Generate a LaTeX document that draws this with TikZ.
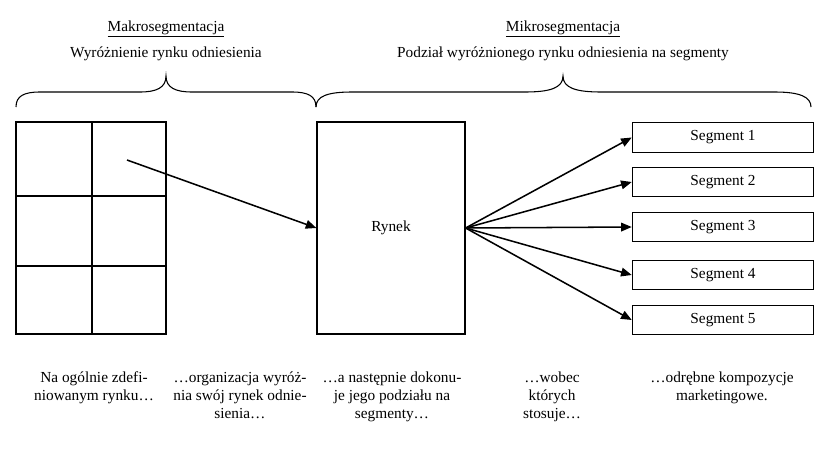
\documentclass[tikz,border=0pt]{standalone}
\usepackage{fontspec}
\setmainfont{Liberation Serif}
\usetikzlibrary{arrows.meta}
\begin{document}
\begin{tikzpicture}[x=0.75pt,y=-0.75pt,
  box/.style={draw, line width=0.9pt, inner sep=0pt, font=\fontsize{11.5}{13.5}\selectfont},
  arr/.style={line width=1.15pt, -{Triangle[length=8pt,width=6.5pt]}},
  txt/.style={font=\fontsize{11.5}{13.5}\selectfont, inner sep=0pt, anchor=base},
  brace/.style={line width=0.8pt}]
\useasboundingbox (0,0) rectangle (832,450);

% top labels
\node[txt] (makro) at (166,31) {\underline{Makrosegmentacja}};
\node[txt] (makrod) at (166,57) {Wyróżnienie rynku odniesienia};
\node[txt] (mikro) at (563,31) {\underline{Mikrosegmentacja}};
\node[txt] (mikrod) at (563,57) {Podział wyróżnionego rynku odniesienia na segmenty};

% braces
\draw[brace] (16,107) .. controls (16,96) and (24,92) .. (40,92) -- (140,92)
  .. controls (156,92) and (166,88) .. (166,76)
  .. controls (166,88) and (176,92) .. (192,92) -- (292,92)
  .. controls (308,92) and (316,96) .. (316,107);
\draw[brace] (316,107) .. controls (316,96) and (328,92) .. (352,92) -- (525,92)
  .. controls (550,92) and (563,88) .. (563,76)
  .. controls (563,88) and (576,92) .. (601,92) -- (775,92)
  .. controls (800,92) and (811,97) .. (811,107);

% grid
\node[box, minimum width=112.5pt, minimum height=159pt] (grid) at (91,228) {};
\draw[line width=0.9pt] (92,122) -- (92,334);
\draw[line width=0.9pt] (16,196) -- (166,196);
\draw[line width=0.9pt] (16,266) -- (166,266);
\coordinate (start) at (127,160);

% market
\node[box, minimum width=111pt, minimum height=159pt] (rynek) at (391,228) {Rynek};

% segments
\foreach \i/\y in {1/137.5,2/182,3/227,4/275,5/320}{
  \node[box, minimum width=136pt, minimum height=22pt] (s\i) at (723,\y) {Segment \i};
}

% arrows
\draw[arr] (start) -- (rynek.west);
\foreach \i in {1,...,5}{
  \draw[arr] (rynek.east) -- (s\i.west);
}

% bottom texts
\node[txt] (b1) at (94,382) {\begin{tabular}[t]{@{}c@{}}Na ogólnie zdefi-\\niowanym rynku…\end{tabular}};
\node[txt] (b2) at (240,382) {\begin{tabular}[t]{@{}c@{}}…organizacja wyróż-\\nia swój rynek odnie-\\sienia…\end{tabular}};
\node[txt] (b3) at (392,382) {\begin{tabular}[t]{@{}c@{}}…a następnie dokonu-\\je jego podziału na\\segmenty…\end{tabular}};
\node[txt] (b4) at (552,382) {\begin{tabular}[t]{@{}c@{}}…wobec\\których\\stosuje…\end{tabular}};
\node[txt] (b5) at (722,382) {\begin{tabular}[t]{@{}c@{}}…odrębne kompozycje\\marketingowe.\end{tabular}};
\end{tikzpicture}
\end{document}
